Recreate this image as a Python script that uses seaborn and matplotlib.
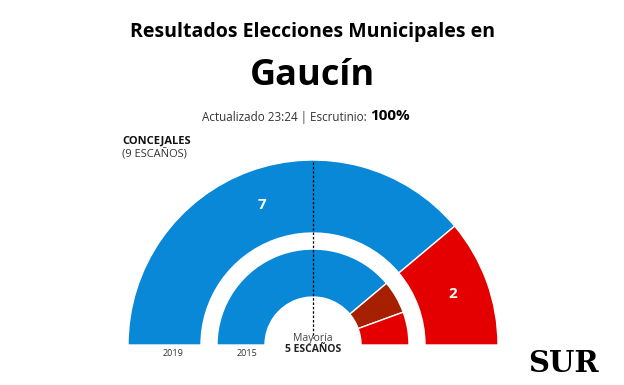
import matplotlib
matplotlib.use("Agg")
import matplotlib.pyplot as plt
import seaborn as sns

# seats per party, 2019 (outer ring) and 2015 (inner ring)
seats_2019 = [7, 2]
colors_2019 = ["#0a88d8", "#e50000"]
labels_2019 = ["7", "2"]

seats_2015 = [7, 1, 1]
colors_2015 = ["#0a88d8", "#a62000", "#e50000"]

total_seats = 9
majority = 5
years = ["2019", "2015"]

sns.set_theme(style="white")
plt.rcParams["font.family"] = ["Open Sans", "DejaVu Sans"]

W, H = 624, 385
fig = plt.figure(figsize=(W / 100, H / 100), dpi=100)
ax = fig.add_axes([0, 0, 1, 1])

cx, cy = 313, H - 345


def half_ring(values, colors, radius, width, labels=None):
    # pie with an invisible half at the bottom -> hemicycle
    vals = list(values) + [sum(values)]
    cols = list(colors) + ["none"]
    labs = (list(labels) + [""]) if labels else None
    res = ax.pie(
        vals, colors=cols, labels=labs, startangle=180, counterclock=False,
        radius=radius, center=(cx, cy), labeldistance=(radius - width / 2) / radius,
        wedgeprops=dict(width=width, edgecolor="white", linewidth=1.0),
        textprops=dict(color="white", fontsize=11, fontweight="bold",
                       ha="center", va="center"),
        frame=True,
    )
    res[0][-1].set_edgecolor("none")
    return res


half_ring(seats_2019, colors_2019, 185, 73, labels_2019)
half_ring(seats_2015, colors_2015, 96, 48)
ax.set_xlim(0, W)
ax.set_ylim(0, H)
ax.set_aspect("equal")
ax.set_axis_off()

# majority line
ax.plot([cx, cx], [H - 162, H - 338], color="black", lw=0.9, linestyle=(0, (2, 1.5)), zorder=1)

ax.text(cx, H - 338, "Mayoría", ha="center", va="center", fontsize=7.5, color="#444444")
ax.text(cx, H - 349, f"{majority} ESCAÑOS", ha="center", va="center", fontsize=7.5,
        fontweight="bold", color="#222222")
ax.text(173, H - 354, years[0], ha="center", va="center", fontsize=6.5, color="#333333")
ax.text(247, H - 354, years[1], ha="center", va="center", fontsize=6.5, color="#333333")

# header
ax.text(313, H - 32, "Resultados Elecciones Municipales en", ha="center", va="center",
        fontsize=14, fontweight="bold", color="black")
ax.text(313, H - 76, "Gaucín", ha="center", va="center", fontsize=26,
        fontweight="bold", color="black")
ax.text(370, H - 117, "Actualizado 23:24 | Escrutinio: ", ha="right", va="center",
        fontsize=8.4, color="#333333")
ax.text(370, H - 116, "100%", ha="left", va="center", fontsize=11,
        fontweight="bold", color="black")

ax.text(122, H - 141, "CONCEJALES", ha="left", va="center", fontsize=8,
        fontweight="bold", color="#111111")
ax.text(122, H - 155, f"({total_seats} ESCAÑOS)", ha="left", va="center", fontsize=8,
        color="#333333")

# logo
ax.text(563, H - 364, "SUR", ha="center", va="center", fontsize=21, fontweight="bold",
        family="DejaVu Serif", color="black")

fig.savefig("out.png", dpi=100)
